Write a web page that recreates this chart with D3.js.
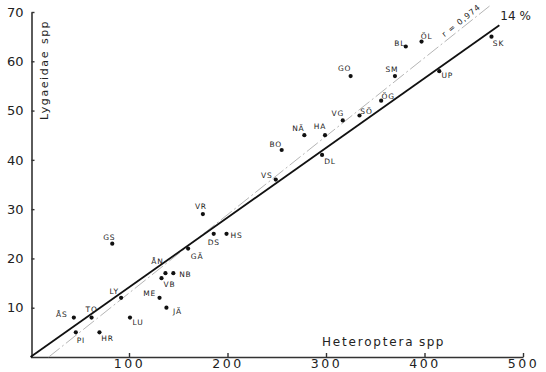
<!DOCTYPE html>
<html>
<head>
<meta charset="utf-8">
<script src="https://cdn.jsdelivr.net/npm/d3@7"></script>
<style>
  body { margin: 0; background: #fff; }
  text { font-family: "DejaVu Sans", sans-serif; fill: #222; }
</style>
</head>
<body>
<div id="chart"></div>
<script>
// Sites and species counts
const sites = ["SK", "UP", "BL", "ÖL", "SM", "ÖG", "SÖ", "GO", "VG", "NÄ", "HA", "BO", "DL", "VS", "VR",
  "DS", "HS", "GS", "GÄ", "ÅN", "NB", "VB", "ME", "JÄ", "LY", "LU", "TO", "PI", "HR", "ÅS"];
const heteroptera = [468, 415, 381, 397, 370, 356, 334, 325, 317, 278, 299, 255, 296, 249, 175,
  186, 199, 83, 160, 137, 145, 133, 131, 138, 92, 101, 62, 46, 70, 44];
const lygaeidae = [65, 58, 63, 64, 57, 52, 49, 57, 48, 45, 45, 42, 41, 36, 29,
  25, 25, 23, 22, 17, 17, 16, 12, 10, 12, 8, 8, 5, 5, 8];

const xTicks = [100, 200, 300, 400, 500];
const yTicks = [10, 20, 30, 40, 50, 60, 70];

// fitted lines (end points)
const slopeLine = [[0, 0], [476, 67.3]];
const rLine = [[18.5, 0], [466, 71.2]];

// label placement relative to each dot (px)
const labelOffset = {
  SK: [7, 9], UP: [8, 7], BL: [-6, -1], "ÖL": [5, -3], SM: [-3, -4], "ÖG": [7, -2], "SÖ": [7, -2],
  GO: [-6, -5], VG: [-5, -4], "NÄ": [-6, -4], HA: [-5, -6], BO: [-6, -3], DL: [8, 9], VS: [-9, -2],
  VR: [-2, -5], DS: [0, 11], HS: [10, 4], GS: [-3, -4], "GÄ": [9, 10], "ÅN": [-8, -9], NB: [12, 4],
  VB: [8, 9], ME: [-10, -2], "JÄ": [11, 6], LY: [-7, -4], LU: [8, 7], TO: [0, -6], PI: [5, 11],
  HR: [8, 9], "ÅS": [-12, -1]
};

const W = 546, H = 372;
const svg = d3.select("#chart").append("svg")
  .attr("width", W)
  .attr("height", H);

const x = d3.scaleLinear().domain([0, 500]).range([30.5, 523]);
const y = d3.scaleLinear().domain([0, 70]).range([357, 12]);

// X axis
const xAxis = svg.append("g")
  .attr("transform", `translate(0, ${y(0)})`)
  .call(d3.axisBottom(x).tickValues(xTicks).tickSize(-4).tickSizeOuter(0));
xAxis.select(".domain").attr("stroke", "#333").attr("stroke-width", 1.6);
xAxis.selectAll(".tick line").attr("stroke", "#333").attr("stroke-width", 1.4);
xAxis.selectAll(".tick text")
  .attr("font-size", 12.5)
  .attr("letter-spacing", "2.5px")
  .attr("fill", "#222")
  .attr("y", 11)
  .attr("dy", 0)
  .style("font-family", "DejaVu Sans, sans-serif");

// Y axis
const yAxis = svg.append("g")
  .attr("transform", `translate(${x(0) + 1}, 0)`)
  .call(d3.axisLeft(y).tickValues(yTicks).tickSize(-3).tickPadding(8).tickSizeOuter(0));
yAxis.select(".domain").attr("stroke", "#333").attr("stroke-width", 1.6);
yAxis.selectAll(".tick line").attr("stroke", "#333").attr("stroke-width", 1.4);
yAxis.selectAll(".tick text")
  .attr("font-size", 13)
  .attr("fill", "#222")
  .style("font-family", "DejaVu Sans, sans-serif");

// Axis titles
svg.append("text")
  .attr("x", 322).attr("y", 346)
  .attr("font-size", 12)
  .attr("letter-spacing", "1.8px")
  .text("Heteroptera");
svg.append("text")
  .attr("x", 419).attr("y", 346)
  .attr("font-size", 12)
  .attr("letter-spacing", "1.5px")
  .text("spp");

svg.append("text")
  .attr("transform", "translate(48, 120) rotate(-90)")
  .attr("font-size", 11)
  .attr("letter-spacing", "1.6px")
  .text("Lygaeidae");
svg.append("text")
  .attr("transform", "translate(48, 44) rotate(-90)")
  .attr("font-size", 11)
  .attr("letter-spacing", "1.4px")
  .text("spp");

// Correlation line (dash-dot, thin grey)
const line = d3.line().x(d => x(d[0])).y(d => y(d[1]));
svg.append("path")
  .attr("d", line(rLine))
  .attr("fill", "none")
  .attr("stroke", "#b5b5b5")
  .attr("stroke-width", 1)
  .attr("stroke-dasharray", "14,3,2,3");

// Regression line
svg.append("path")
  .attr("d", line(slopeLine))
  .attr("fill", "none")
  .attr("stroke", "#111")
  .attr("stroke-width", 1.8);

// r label along the dashed line, just above it
const ang = Math.atan2(y(rLine[0][1]) - y(rLine[1][1]), x(rLine[1][0]) - x(rLine[0][0])) * 180 / Math.PI;
const rAt = 441;
const rY = rLine[0][1] + (rLine[1][1] - rLine[0][1]) * (rAt - rLine[0][0]) / (rLine[1][0] - rLine[0][0]);
svg.append("text")
  .attr("transform", `translate(${x(rAt) - 2}, ${y(rY) - 3}) rotate(${-ang})`)
  .attr("font-size", 8)
  .attr("letter-spacing", "1px")
  .attr("text-anchor", "middle")
  .text("r = 0,974");

// slope label
svg.append("text")
  .attr("x", x(slopeLine[1][0]) + 1)
  .attr("y", y(slopeLine[1][1]) - 5)
  .attr("font-size", 12)
  .text("14 %");

// Points
const pts = sites.map((s, i) => ({ site: s, h: heteroptera[i], l: lygaeidae[i] }));

svg.selectAll("circle.site")
  .data(pts)
  .join("circle")
  .attr("class", "site")
  .attr("cx", d => x(d.h))
  .attr("cy", d => y(d.l))
  .attr("r", 2.1)
  .attr("fill", "#111");

svg.selectAll("text.site")
  .data(pts)
  .join("text")
  .attr("class", "site")
  .attr("x", d => x(d.h) + labelOffset[d.site][0])
  .attr("y", d => y(d.l) + labelOffset[d.site][1])
  .attr("text-anchor", "middle")
  .attr("font-size", 7.5)
  .attr("letter-spacing", "0.8px")
  .attr("fill", "#333")
  .text(d => d.site);
</script>
</body>
</html>
